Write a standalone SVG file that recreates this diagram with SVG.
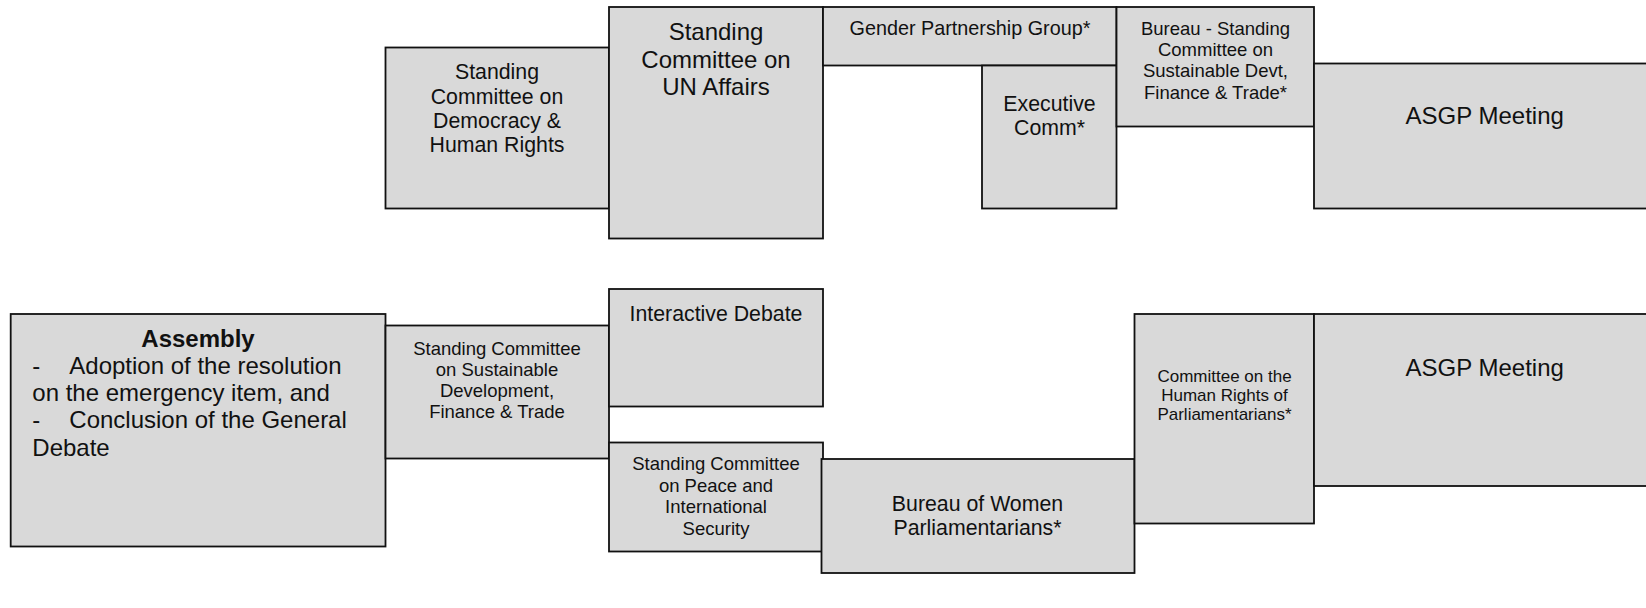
<svg xmlns="http://www.w3.org/2000/svg" width="1646" height="608" viewBox="0 0 1646 608">
<style>
.box{fill:#d9d9d9;stroke:#111;stroke-width:1.8}
text{font-family:"Liberation Sans",Arial,sans-serif;fill:#111}
.c{text-anchor:middle}
.s17{font-size:17px}
.s18{font-size:18.5px}
.s20{font-size:19.8px}
.s21{font-size:21.3px}
.s24{font-size:24px}
.b{font-weight:bold}
</style>
<rect width="1646" height="608" fill="#ffffff"/>
<g id="connectors"/>

<g id="sc-democracy">
<rect class="box" x="385.5" y="47.5" width="223.5" height="161"/>
<text class="c s21" x="497" y="79">Standing</text>
<text class="c s21" x="497" y="103.5">Committee on</text>
<text class="c s21" x="497" y="127.8">Democracy &amp;</text>
<text class="c s21" x="497" y="152.1">Human Rights</text>
</g>

<g id="sc-un">
<rect class="box" x="609" y="7" width="214" height="231.5"/>
<text class="c s24" x="716" y="40">Standing</text>
<text class="c s24" x="716" y="67.5">Committee on</text>
<text class="c s24" x="716" y="95">UN Affairs</text>
</g>

<g id="gender">
<rect class="box" x="823" y="7" width="293.5" height="58.5"/>
<text class="c s20" x="970" y="35">Gender Partnership Group*</text>
</g>

<g id="executive">
<rect class="box" x="982" y="65.5" width="134.5" height="143"/>
<text class="c s21" x="1049.5" y="110.5">Executive</text>
<text class="c s21" x="1049.5" y="134.8">Comm*</text>
</g>

<g id="bureau-sdft">
<rect class="box" x="1116.5" y="7" width="197.5" height="119.5"/>
<text class="c s18" x="1215.5" y="34.7">Bureau - Standing</text>
<text class="c s18" x="1215.5" y="56">Committee on</text>
<text class="c s18" x="1215.5" y="77.3">Sustainable Devt,</text>
<text class="c s18" x="1215.5" y="98.6">Finance &amp; Trade*</text>
</g>

<g id="asgp-1">
<rect class="box" x="1314" y="63.5" width="350" height="145"/>
<text class="c s24" x="1484.7" y="124">ASGP Meeting</text>
</g>

<g id="assembly">
<rect class="box" x="10.7" y="314" width="374.8" height="232.5"/>
<text class="c s24 b" x="198" y="347">Assembly</text>
<text class="s24" x="32.3" y="373.5">-</text>
<text class="s24" x="69.3" y="373.5">Adoption of the resolution</text>
<text class="s24" x="32.3" y="401">on the emergency item, and</text>
<text class="s24" x="32.3" y="428.3">-</text>
<text class="s24" x="69.3" y="428.3">Conclusion of the General</text>
<text class="s24" x="32.3" y="455.7">Debate</text>
</g>

<g id="sc-sustainable">
<rect class="box" x="385.5" y="325.5" width="223.5" height="133"/>
<text class="c s18" x="497" y="354.5">Standing Committee</text>
<text class="c s18" x="497" y="375.8">on Sustainable</text>
<text class="c s18" x="497" y="397.1">Development,</text>
<text class="c s18" x="497" y="418.4">Finance &amp; Trade</text>
</g>

<g id="interactive">
<rect class="box" x="609" y="289" width="214" height="117.5"/>
<text class="c s21" x="716" y="320.5">Interactive Debate</text>
</g>

<g id="sc-peace">
<rect class="box" x="609" y="442.5" width="214" height="109"/>
<text class="c s18" x="716" y="470">Standing Committee</text>
<text class="c s18" x="716" y="491.5">on Peace and</text>
<text class="c s18" x="716" y="513.2">International</text>
<text class="c s18" x="716" y="534.7">Security</text>
</g>

<g id="bureau-women">
<rect class="box" x="821.5" y="459" width="313" height="114"/>
<text class="c s21" x="977.5" y="510.5">Bureau of Women</text>
<text class="c s21" x="977.5" y="535">Parliamentarians*</text>
</g>

<g id="hr-parliamentarians">
<rect class="box" x="1134.5" y="314" width="179.5" height="209.5"/>
<text class="c s17" x="1224.5" y="381.5">Committee on the</text>
<text class="c s17" x="1224.5" y="400.5">Human Rights of</text>
<text class="c s17" x="1224.5" y="419.5">Parliamentarians*</text>
</g>

<g id="asgp-2">
<rect class="box" x="1314" y="314" width="350" height="172"/>
<text class="c s24" x="1484.7" y="375.5">ASGP Meeting</text>
</g>
</svg>
